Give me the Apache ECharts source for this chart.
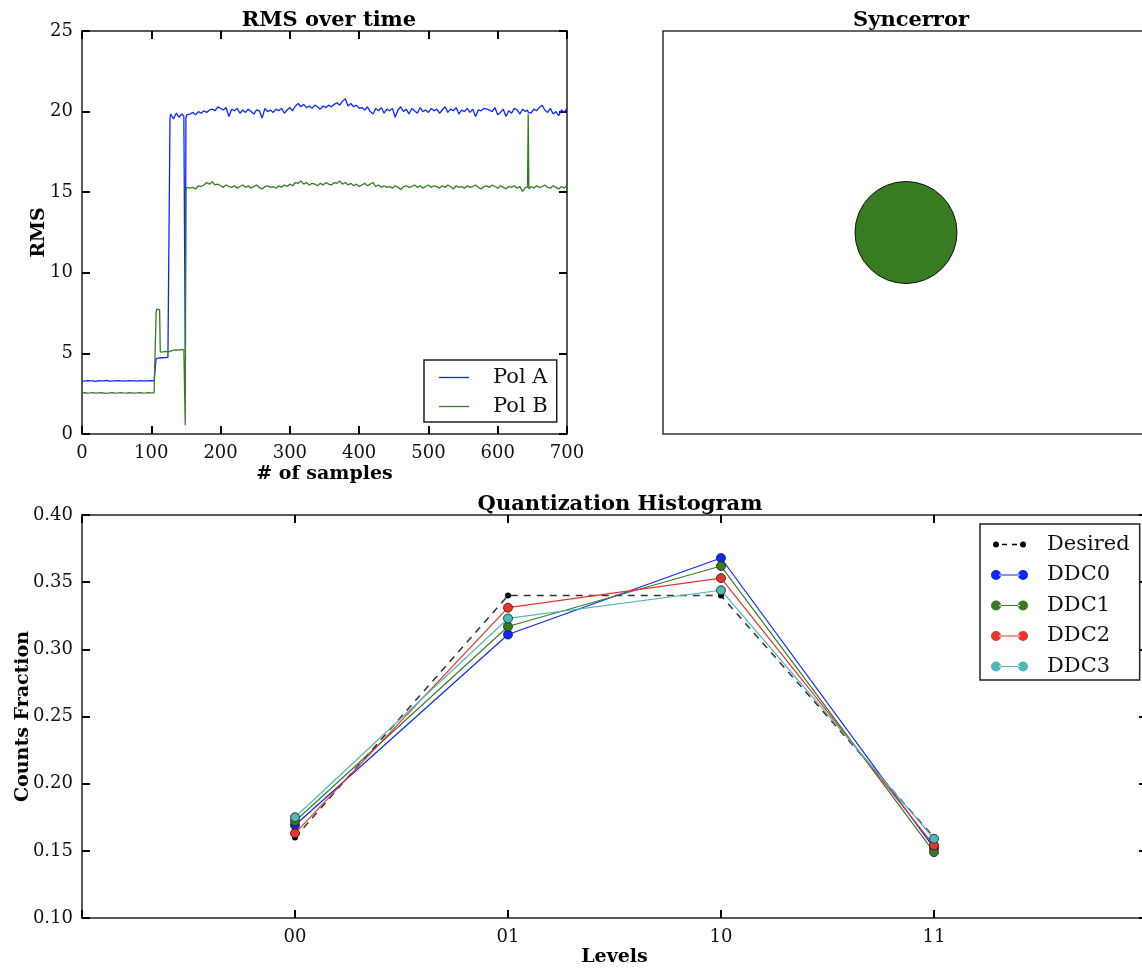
<!DOCTYPE html>
<html>
<head>
<meta charset="utf-8">
<title>RMS / Syncerror / Quantization</title>
<script src="https://cdn.jsdelivr.net/npm/echarts@6/dist/echarts.min.js"></script>
<style>
  html, body { margin: 0; padding: 0; background: #fff; overflow: hidden; }
  #main { width: 1150px; height: 969px; }
</style>
</head>
<body>
<div id="main"></div>
<script>
// ---- RMS over time ----
var samples = [
  0, 4, 8, 12, 16, 20, 24, 28, 32, 36,
  40, 44, 48, 52, 56, 60, 64, 68, 72, 76,
  80, 84, 88, 92, 96, 100, 104,
  106, 107, 108, 110, 112, 113, 116, 120, 124, 126, 127, 128, 132, 136, 140, 144, 147, 148, 149, 150, 151, 152,
  156, 160, 164, 168, 172, 176, 180, 184, 188, 192,
  196, 200, 204, 208, 212, 216, 220, 224, 228, 232,
  236, 240, 244, 248, 252, 256, 260, 264, 268, 272,
  276, 280, 284, 288, 292, 296, 300, 304, 308, 312,
  316, 320, 324, 328, 332, 336, 340, 344, 348, 352,
  356, 360, 364, 368, 372, 376, 380, 384, 388, 392,
  396, 400, 404, 408, 412, 416, 420, 424, 428, 432,
  436, 440, 444, 448, 452, 456, 460, 464, 468, 472,
  476, 480, 484, 488, 492, 496, 500, 504, 508, 512,
  516, 520, 524, 528, 532, 536, 540, 544, 548, 552,
  556, 560, 564, 568, 572, 576, 580, 584, 588, 592,
  596, 600, 604, 608, 612, 616, 620, 624, 628, 632,
  636, 640, 643, 644, 645,
  648, 652, 656, 660, 664, 668, 672, 676, 680, 684, 688, 692, 696, 700
];
var polA = [
  3.30, 3.28, 3.31, 3.29, 3.30, 3.27, 3.31, 3.30, 3.29, 3.32,
  3.28, 3.30, 3.29, 3.31, 3.30, 3.28, 3.30, 3.31, 3.29, 3.30,
  3.28, 3.31, 3.30, 3.29, 3.30, 3.31, 3.30,
  3.31, 4.68, 4.70, 4.71, 4.72, 4.72, 4.73, 4.74, 4.76, 4.78, 19.60, 19.85, 19.55, 19.90, 19.65, 19.85, 19.70, 19.75, 5.10, 19.60, 19.80, 19.70,
  19.85, 19.95, 19.80, 20.00, 19.90, 20.05, 19.95, 20.10, 20.15, 20.05,
  20.30, 20.20, 20.10, 20.25, 19.70, 20.15, 20.05, 20.20, 19.90, 20.10,
  19.95, 20.15, 20.00, 19.85, 20.10, 20.05, 19.60, 20.20, 20.00, 20.10,
  19.95, 20.15, 20.05, 20.20, 19.90, 20.10, 20.25, 20.05, 20.35, 20.50,
  20.30, 20.45, 20.25, 20.35, 20.20, 20.40, 20.30, 20.15, 20.35, 20.25,
  20.40, 20.30, 20.45, 20.55, 20.40, 20.65, 20.80, 20.35, 20.50, 20.30,
  20.40, 20.20, 20.25, 20.10, 20.30, 20.00, 19.85, 20.20, 20.05, 20.25,
  19.90, 20.15, 20.05, 20.20, 19.65, 20.10, 20.30, 20.00, 20.15, 19.85,
  20.20, 20.05, 19.90, 20.25, 20.00, 20.10, 19.95, 20.20, 20.05, 20.15,
  19.90, 20.10, 20.30, 19.95, 20.15, 20.05, 20.25, 19.85, 20.10, 20.00,
  20.20, 19.95, 20.15, 19.70, 20.10, 20.05, 20.20, 20.15, 20.10, 20.00,
  20.25, 19.80, 19.95, 20.15, 19.70, 20.05, 19.90, 20.20, 20.10, 19.85,
  20.15, 20.00, 20.10, 19.95, 20.05,
  19.90, 20.15, 20.05, 20.25, 20.40, 20.10, 19.95, 20.20, 19.85, 20.00, 19.75, 20.10, 19.95, 20.20
];
var polB = [
  2.55, 2.56, 2.54, 2.55, 2.57, 2.53, 2.55, 2.56, 2.54, 2.52,
  2.55, 2.56, 2.54, 2.55, 2.57, 2.55, 2.54, 2.56, 2.55, 2.53,
  2.55, 2.56, 2.54, 2.55, 2.57, 2.55, 2.55,
  2.56, 7.55, 7.75, 7.80, 7.70, 5.10, 5.08, 5.12, 5.10, 5.15, 5.12, 5.18, 5.20, 5.22, 5.20, 5.25, 5.22, 5.20, 0.55, 15.10, 15.30, 15.20,
  15.25, 15.30, 15.20, 15.40, 15.35, 15.45, 15.60, 15.50, 15.65, 15.45,
  15.50, 15.40, 15.30, 15.45, 15.35, 15.30, 15.40, 15.25, 15.35, 15.45,
  15.30, 15.40, 15.25, 15.35, 15.45, 15.30, 15.20, 15.35, 15.40, 15.30,
  15.35, 15.25, 15.40, 15.30, 15.45, 15.35, 15.50, 15.40, 15.60, 15.55,
  15.70, 15.50, 15.60, 15.45, 15.55, 15.50, 15.40, 15.55, 15.45, 15.60,
  15.50, 15.45, 15.60, 15.55, 15.70, 15.50, 15.60, 15.45, 15.55, 15.40,
  15.50, 15.35, 15.45, 15.55, 15.40, 15.50, 15.60, 15.35, 15.45, 15.30,
  15.40, 15.30, 15.35, 15.25, 15.40, 15.30, 15.15, 15.35, 15.40, 15.30,
  15.35, 15.45, 15.30, 15.40, 15.25, 15.35, 15.45, 15.30, 15.40, 15.35,
  15.25, 15.40, 15.30, 15.45, 15.35, 15.20, 15.40, 15.30, 15.35, 15.25,
  15.40, 15.30, 15.35, 15.45, 15.30, 15.20, 15.35, 15.40, 15.30, 15.45,
  15.35, 15.25, 15.40, 15.30, 15.20, 15.35, 15.30, 15.40, 15.25, 15.35,
  15.05, 15.30, 15.30, 19.85, 15.20,
  15.35, 15.25, 15.40, 15.30, 15.35, 15.45, 15.30, 15.25, 15.40, 15.30, 15.20, 15.35, 15.25, 15.45
];

// ---- Syncerror ----
var syncX = [0];
var syncY = [0];

// ---- Quantization Histogram ----
var levels = ['00', '01', '10', '11'];
var desired = [0.160, 0.340, 0.340, 0.160];
var ddc0 = [0.169, 0.311, 0.368, 0.152];
var ddc1 = [0.172, 0.317, 0.362, 0.149];
var ddc2 = [0.163, 0.331, 0.353, 0.154];
var ddc3 = [0.175, 0.323, 0.344, 0.159];

var FONT = 'DejaVu Serif';
var BLUE = '#0a28ff', GREEN = '#387c22', RED = '#e8342a', CYAN = '#4fb8bb';

function pairs(xs, ys) {
    var out = [];
    for (var i = 0; i < ys.length; i++) out.push([xs[i], ys[i]]);
    return out;
}
function levelPairs(ys) {
    var out = [];
    for (var i = 0; i < ys.length; i++) out.push([i + 1, ys[i]]);
    return out;
}

var spine = {show: true, onZero: false, lineStyle: {color: '#222', width: 1.5}};
var tickIn = {show: true, inside: true, length: 8, lineStyle: {color: '#000', width: 2}};
var nameStyle = {color: '#000', fontFamily: FONT, fontSize: 19, fontWeight: 'bold'};
var titleStyle = {fontFamily: FONT, fontSize: 21, fontWeight: 'bold', color: '#000'};

function box(extra) {
    var a = {
        axisLine: spine,
        axisTick: tickIn,
        splitLine: {show: false},
        axisLabel: {show: false},
        nameMoveOverlap: false
    };
    for (var k in extra) a[k] = extra[k];
    return a;
}
function labels(margin, fmt) {
    var l = {show: true, margin: margin, color: '#111', fontFamily: FONT, fontSize: 18};
    if (fmt) l.formatter = fmt;
    return l;
}

var lineIcon = 'path://M0,0H30V1.3H0Z';
var dotsIcon = 'path://M0,5a5,5 0 1,0 10,0a5,5 0 1,0 -10,0Z M27,5a5,5 0 1,0 10,0a5,5 0 1,0 -10,0Z M8,4.4H29V5.6H8Z';
var desiredIcon = 'path://M0,0h0.01v0.01h-0.01Z M36.99,9.99h0.01v0.01h-0.01Z ' +
    'M2,5a3,3 0 1,0 6,0a3,3 0 1,0 -6,0Z M29,5a3,3 0 1,0 6,0a3,3 0 1,0 -6,0Z M11,4.3H16V5.7H11Z M21,4.3H26V5.7H21Z';

var myChart = echarts.init(document.getElementById('main'), null, {renderer: 'canvas'});

var option = {
    animation: false,
    backgroundColor: '#fff',
    title: [
        {text: 'RMS over time', left: 324, top: 5, textAlign: 'center', textStyle: titleStyle},
        {text: 'Syncerror', left: 906, top: 5, textAlign: 'center', textStyle: titleStyle},
        {text: 'Quantization Histogram', left: 615, top: 489, textAlign: 'center', textStyle: titleStyle}
    ],
    legend: [
        {
            data: [{name: 'Pol A', icon: lineIcon}, {name: 'Pol B', icon: lineIcon}],
            orient: 'vertical', align: 'left',
            left: 424, top: 360,
            itemWidth: 30, itemHeight: 10, itemGap: 8,
            padding: [7, 9, 5, 15],
            borderColor: '#222', borderWidth: 1.5, backgroundColor: '#fff',
            itemStyle: {borderWidth: 0},
            textStyle: {fontFamily: FONT, fontSize: 21, lineHeight: 21, color: '#111', padding: [0, 0, 0, 19]}
        },
        {
            data: [
                {name: 'Desired', icon: desiredIcon},
                {name: 'DDC0', icon: dotsIcon},
                {name: 'DDC1', icon: dotsIcon},
                {name: 'DDC2', icon: dotsIcon},
                {name: 'DDC3', icon: dotsIcon}
            ],
            orient: 'vertical', align: 'left',
            left: 980, top: 524,
            itemWidth: 37, itemHeight: 10, itemGap: 9.5,
            padding: [10, 10, 3, 11],
            borderColor: '#222', borderWidth: 1.5, backgroundColor: '#fff',
            itemStyle: {borderWidth: 0},
            textStyle: {fontFamily: FONT, fontSize: 21, lineHeight: 21, color: '#111', padding: [0, 0, 0, 14]}
        }
    ],
    grid: [
        {left: 82, top: 31, width: 485, height: 403, outerBoundsMode: 'none', containLabel: false},
        {left: 663, top: 31, width: 486, height: 403, show: true, borderColor: '#333', borderWidth: 1.5,
            outerBoundsMode: 'none', containLabel: false},
        {left: 82, top: 515, width: 1065, height: 403, outerBoundsMode: 'none', containLabel: false}
    ],
    xAxis: [
        box({type: 'value', gridIndex: 0, min: 0, max: 700, interval: 100, position: 'bottom',
            name: '# of samples', nameLocation: 'middle', nameGap: 31, nameTextStyle: nameStyle,
            axisLabel: labels(10)}),
        box({type: 'value', gridIndex: 0, min: 0, max: 700, interval: 100, position: 'top'}),
        {type: 'value', gridIndex: 1, min: -1, max: 1, show: false},
        box({type: 'value', gridIndex: 2, min: 0, max: 5, interval: 1, position: 'bottom',
            name: 'Levels', nameLocation: 'middle', nameGap: 30, nameTextStyle: nameStyle,
            axisLabel: labels(10, function (v) { return levels[v - 1] || ''; })}),
        box({type: 'value', gridIndex: 2, min: 0, max: 5, interval: 1, position: 'top'})
    ],
    yAxis: [
        box({type: 'value', gridIndex: 0, min: 0, max: 25, interval: 5, position: 'left',
            name: 'RMS', nameLocation: 'middle', nameGap: 33, nameTextStyle: nameStyle,
            axisLabel: labels(9)}),
        box({type: 'value', gridIndex: 0, min: 0, max: 25, interval: 5, position: 'right'}),
        {type: 'value', gridIndex: 1, min: -1, max: 1, show: false},
        box({type: 'value', gridIndex: 2, min: 0.1, max: 0.4, interval: 0.05, position: 'left',
            name: 'Counts Fraction', nameLocation: 'middle', nameGap: 49, nameTextStyle: nameStyle,
            axisLabel: labels(9, function (v) { return v.toFixed(2); })}),
        box({type: 'value', gridIndex: 2, min: 0.1, max: 0.4, interval: 0.05, position: 'right'})
    ],
    series: [
        {name: 'Pol A', type: 'line', xAxisIndex: 0, yAxisIndex: 0, symbol: 'none',
            data: pairs(samples, polA), itemStyle: {color: BLUE}, lineStyle: {color: BLUE, width: 1.3}},
        {name: 'Pol B', type: 'line', xAxisIndex: 0, yAxisIndex: 0, symbol: 'none',
            data: pairs(samples, polB), itemStyle: {color: GREEN}, lineStyle: {color: GREEN, width: 1.3}},
        {name: 'Syncerror', type: 'scatter', xAxisIndex: 2, yAxisIndex: 2, symbolSize: 102,
            data: pairs(syncX, syncY), itemStyle: {color: GREEN, borderColor: '#111', borderWidth: 1, opacity: 1}},
        {name: 'Desired', type: 'line', xAxisIndex: 3, yAxisIndex: 3, symbol: 'circle', symbolSize: 6,
            data: levelPairs(desired), itemStyle: {color: '#000'},
            lineStyle: {color: '#333', width: 1.5, type: [7, 6]}},
        {name: 'DDC0', type: 'line', xAxisIndex: 3, yAxisIndex: 3, symbol: 'circle', symbolSize: 9,
            data: levelPairs(ddc0), itemStyle: {color: BLUE, borderColor: '#1a1a1a', borderWidth: 0.8},
            lineStyle: {color: BLUE, width: 1.2}},
        {name: 'DDC1', type: 'line', xAxisIndex: 3, yAxisIndex: 3, symbol: 'circle', symbolSize: 9,
            data: levelPairs(ddc1), itemStyle: {color: GREEN, borderColor: '#1a1a1a', borderWidth: 0.8},
            lineStyle: {color: GREEN, width: 1.2}},
        {name: 'DDC2', type: 'line', xAxisIndex: 3, yAxisIndex: 3, symbol: 'circle', symbolSize: 9,
            data: levelPairs(ddc2), itemStyle: {color: RED, borderColor: '#1a1a1a', borderWidth: 0.8},
            lineStyle: {color: RED, width: 1.2}},
        {name: 'DDC3', type: 'line', xAxisIndex: 3, yAxisIndex: 3, symbol: 'circle', symbolSize: 9,
            data: levelPairs(ddc3), itemStyle: {color: CYAN, borderColor: '#1a1a1a', borderWidth: 0.8},
            lineStyle: {color: CYAN, width: 1.2}}
    ]
};

myChart.setOption(option);
</script>
</body>
</html>
